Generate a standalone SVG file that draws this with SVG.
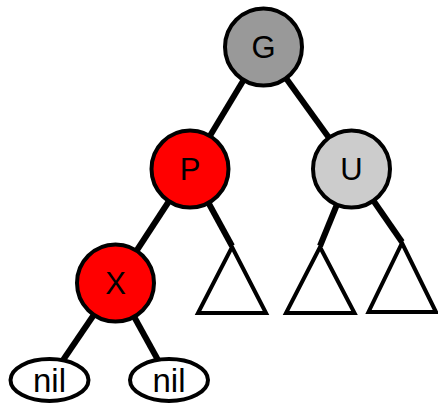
<svg xmlns="http://www.w3.org/2000/svg" width="438" height="403" viewBox="0 0 438 403">
  <style>
    .edge { stroke: #000; stroke-width: 6; stroke-linecap: butt; fill: none; }
    .node { stroke: #000; stroke-width: 4; }
    .sub { fill: #fff; stroke: #000; stroke-width: 4; stroke-linejoin: miter; }
    .label { font-family: "Liberation Sans", Arial, sans-serif; font-size: 31px; fill: #000; text-anchor: middle; }
    .nil { font-size: 33px; }
  </style>
  <rect width="438" height="403" fill="#fff"/>

  <g id="connectors">
    <line class="edge" x1="263.5" y1="47" x2="190" y2="169"/>
    <line class="edge" x1="263.5" y1="47" x2="351.5" y2="169"/>
    <line class="edge" x1="190" y1="169" x2="115.5" y2="283"/>
    <line class="edge" x1="190" y1="169" x2="232" y2="246"/>
    <line class="edge" x1="351.5" y1="169" x2="320" y2="246"/>
    <line class="edge" x1="351.5" y1="169" x2="402" y2="242"/>
    <line class="edge" x1="115.5" y1="283" x2="49.5" y2="380"/>
    <line class="edge" x1="115.5" y1="283" x2="169" y2="380"/>
  </g>

  <g id="node-G">
    <circle class="node" cx="263.5" cy="47" r="38.5" fill="#999999"/>
    <text class="label" x="263.5" y="58">G</text>
  </g>
  <g id="node-P">
    <circle class="node" cx="190" cy="169" r="38.5" fill="#ff0000"/>
    <text class="label" x="190" y="180">P</text>
  </g>
  <g id="node-U">
    <circle class="node" cx="351.5" cy="169" r="38.5" fill="#cccccc"/>
    <text class="label" x="351.5" y="180">U</text>
  </g>
  <g id="node-X">
    <circle class="node" cx="115.5" cy="283" r="38.5" fill="#ff0000"/>
    <text class="label" x="115.5" y="294">X</text>
  </g>
  <g id="nil-left">
    <ellipse class="node" cx="49.5" cy="380" rx="39" ry="21" fill="#fff"/>
    <text class="label nil" x="49.5" y="391.5">nil</text>
  </g>
  <g id="nil-right">
    <ellipse class="node" cx="169" cy="380" rx="39" ry="21" fill="#fff"/>
    <text class="label nil" x="169" y="391.5">nil</text>
  </g>
  <g id="subtree-P-right">
    <polygon class="sub" points="232,247 266,313 198,313"/>
  </g>
  <g id="subtree-U-left">
    <polygon class="sub" points="320,247 354.5,313 286,313"/>
  </g>
  <g id="subtree-U-right">
    <polygon class="sub" points="402,243 436,312 368.5,312"/>
  </g>
</svg>
